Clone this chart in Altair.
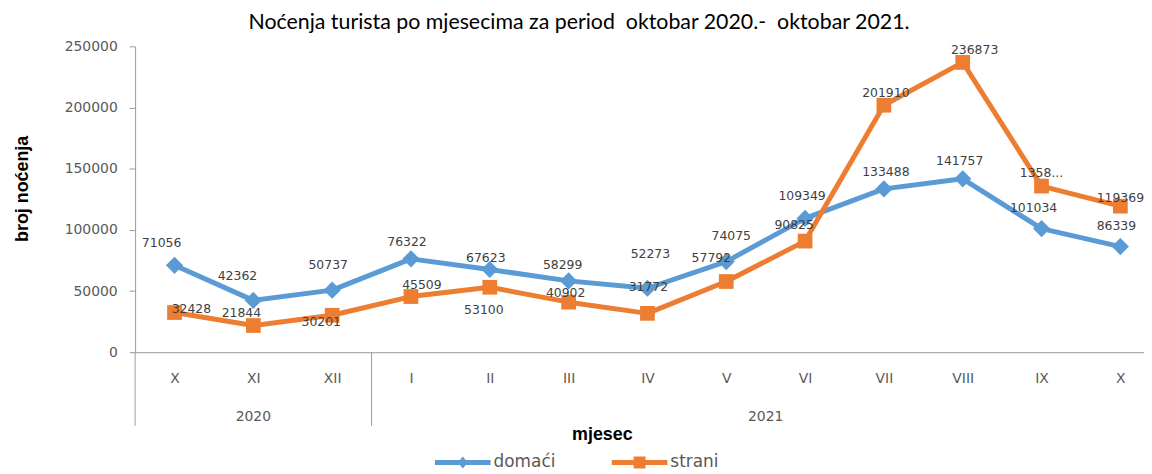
import json
import altair as alt
import pandas as pd

TITLE = "Noćenja turista po mjesecima za period \u00a0oktobar 2020.- \u00a0oktobar 2021."
MONTHS = ["X", "XI", "XII", "I", "II", "III", "IV", "V", "VI", "VII", "VIII", "IX", "X"]
YEARS = ["2020", "2020", "2020"] + ["2021"] * 10
SERIES = ["domaći", "strani"]
DOMACI = [71056, 42362, 50737, 76322, 67623, 58299, 52273, 74075, 109349, 133488, 141757, 101034, 86339]
STRANI = [32428, 21844, 30201, 45509, 53100, 40902, 31772, 57792, 90825, 201910, 236873, 135800, 119369]
DOMACI_LABELS = ["71056", "42362", "50737", "76322", "67623", "58299", "52273", "74075",
                 "109349", "133488", "141757", "101034", "86339"]
STRANI_LABELS = ["32428", "21844", "30201", "45509", "53100", "40902", "31772", "57792",
                 "90825", "201910", "236873", "1358...", "119369"]
Y_TICKS = [0, 50000, 100000, 150000, 200000, 250000]

# label placement as in the original (pixel offsets from each marker)
DOM_DX = [-13, -16, -4, -4, -4, -6, 3, 5, -3, 2, -3, -8, -4]
DOM_DY = [-22, -25, -25, -17, -12, -16, -34, -26, -23, -17, -18, -21, -21]
STR_DX = [17, -12, -11, 11, -6, -3, 1, -15, -11, 2, 12, 0, 0]
STR_DY = [-4, -13, 7, -12, 23, -9, -27, -24, -16, -12, -12, -13, -8]

BLUE = "#5B9BD5"
ORANGE = "#ED7D31"
AXIS_GRAY = "#9a9a9a"

W, H = 1016, 308
X_DOMAIN = [-0.5, 12.3]
Y_DOMAIN = [0, 250000]
PX_X = W / (X_DOMAIN[1] - X_DOMAIN[0])
PX_Y = H / (Y_DOMAIN[1] - Y_DOMAIN[0])

rows = []
for s, vals, labs, dxs, dys in [(SERIES[0], DOMACI, DOMACI_LABELS, DOM_DX, DOM_DY),
                                (SERIES[1], STRANI, STRANI_LABELS, STR_DX, STR_DY)]:
    for i, (v, lab, dx, dy) in enumerate(zip(vals, labs, dxs, dys)):
        rows.append({"idx": i, "month": MONTHS[i], "year": YEARS[i], "series": s,
                     "value": v, "label": lab,
                     "lx": i + dx / PX_X, "ly": v - dy / PX_Y})
df = pd.DataFrame(rows)

# year groups and separators
yr = pd.DataFrame({"idx": list(range(len(MONTHS))), "year": YEARS})
ygrp = yr.groupby("year")["idx"].agg(["min", "max"]).reset_index()
ygrp["center"] = (ygrp["min"] + ygrp["max"]) / 2
sep = pd.DataFrame({"sep": [m - 0.5 for m in ygrp["min"]]})

xscale = alt.Scale(domain=X_DOMAIN, nice=False, zero=False)
yscale = alt.Scale(domain=Y_DOMAIN, nice=False)

label_expr = json.dumps(MONTHS) + "[datum.value]"

x_axis = alt.Axis(
    values=list(range(len(MONTHS))), labelExpr=label_expr, ticks=False, grid=False,
    domainColor=AXIS_GRAY, labelFont="DejaVu Sans", labelFontSize=14, labelColor="#595959",
    labelPadding=20, labelFlush=False, labelOverlap=False,
    title="mjesec", titleFont="Liberation Sans", titleFontSize=18, titleFontWeight="bold",
    titleColor="black", titleX=470, titleY=74, titleAlign="center")
y_axis = alt.Axis(
    values=Y_TICKS, format="d", grid=False, tickSize=6, tickColor=AXIS_GRAY,
    domainColor=AXIS_GRAY, labelFont="DejaVu Sans", labelFontSize=14, labelColor="#595959",
    labelPadding=12, title="broj noćenja", titleFont="Liberation Sans", titleFontSize=18,
    titleFontWeight="bold", titleColor="black", titleX=-104, titleY=143, titleAngle=270)


def X(field):
    return alt.X(field, type="quantitative", scale=xscale, axis=x_axis)


def Y(field):
    return alt.Y(field, type="quantitative", scale=yscale, axis=y_axis)


base = alt.Chart(df)

layers = []
for s, col, shape, size in [(SERIES[0], BLUE, "diamond", 300), (SERIES[1], ORANGE, "square", 220)]:
    sub = base.transform_filter(alt.datum.series == s)
    line = sub.mark_line(color=col, strokeWidth=5, strokeJoin="round", strokeCap="round").encode(
        x=X("idx"), y=Y("value"))
    pts = sub.mark_point(shape=shape, size=size, filled=True, color=col, opacity=1,
                         strokeWidth=0).encode(x=X("idx"), y=Y("value"))
    layers += [line, pts]

labels = base.mark_text(font="DejaVu Sans", fontSize=12.5, color="#404040",
                        align="center", baseline="middle").encode(
    x=X("lx"), y=Y("ly"), text="label:N")

seps = alt.Chart(sep).mark_rule(color=AXIS_GRAY, strokeWidth=1).encode(
    x=X("sep"), y=alt.value(H), y2=alt.value(H + 74))

years = alt.Chart(ygrp).mark_text(font="DejaVu Sans", fontSize=14, color="#595959",
                                  baseline="middle").encode(
    x=X("center"), y=alt.value(H + 65), text="year:N")

DOM_PATH = "M-1,-0.25L4.6,-0.25L4.6,0.25L-1,0.25Z M1.8,-0.6L2.3,0L1.8,0.6L1.3,0Z"
STR_PATH = "M-1,-0.25L4.6,-0.25L4.6,0.25L-1,0.25Z M1.2,-0.6L2.4,-0.6L2.4,0.6L1.2,0.6Z"

legend_layer = base.transform_filter("false").mark_point(filled=True, size=400, opacity=1).encode(
    color=alt.Color("series:N", scale=alt.Scale(domain=SERIES, range=[BLUE, ORANGE]),
                    legend=alt.Legend(title=None)),
    shape=alt.Shape("series:N", scale=alt.Scale(domain=SERIES, range=[DOM_PATH, STR_PATH]),
                    legend=alt.Legend(title=None)))

chart = alt.layer(*layers, labels, seps, years, legend_layer).properties(
    width=W, height=H,
    autosize=alt.AutoSizeParams(type="none"),
    padding={"left": 128, "top": 37, "right": 0, "bottom": 121},
    title=alt.TitleParams(TITLE, font="Lato", fontSize=21.5, fontWeight="normal", color="black",
                          anchor="middle", frame="bounds", offset=6),
).configure_view(stroke=None).configure_legend(
    orient="none", legendX=302, legendY=409, direction="horizontal",
    symbolSize=400, symbolStrokeWidth=0, symbolOpacity=1, padding=0,
    labelFont="DejaVu Sans", labelFontSize=17, labelColor="#595959", labelOffset=39,
    columnPadding=56, labelLimit=200)

chart.save("out.html", embed_options={"renderer": "svg", "actions": False})
